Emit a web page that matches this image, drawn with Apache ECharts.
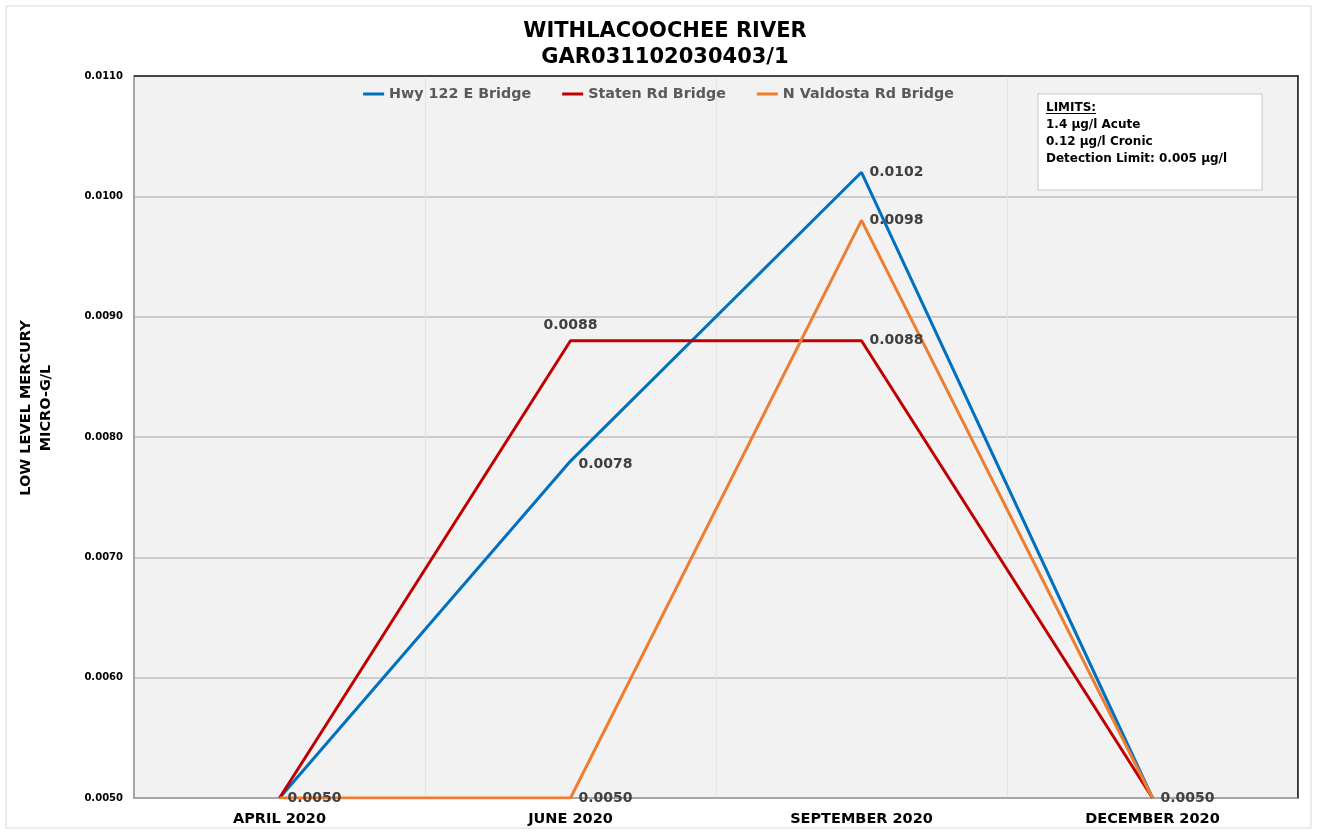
<!DOCTYPE html>
<html>
<head>
<meta charset="utf-8">
<script src="https://cdn.jsdelivr.net/npm/echarts@6/dist/echarts.min.js"></script>
<style>
  html, body { margin: 0; padding: 0; background: #fff; }
  #chart { width: 1317px; height: 834px; }
</style>
</head>
<body>
<div id="chart"></div>
<script>
// sampling dates
const months = ['APRIL 2020', 'JUNE 2020', 'SEPTEMBER 2020', 'DECEMBER 2020']
// low level mercury, micro-g/l
const hwy122 = [0.005, 0.0078, 0.0102, 0.005]
const staten = [0.005, 0.0088, 0.0088, 0.005]
const valdosta = [0.005, 0.005, 0.0098, 0.005]
// which points carry a value label, and where
const hwyLabels = [null, 'bottomRight', 'right', null]
const statenLabels = [null, 'top', 'right', null]
const valdostaLabels = ['right', 'right', 'right', 'right']
const limitsText = ['LIMITS:', '1.4 µg/l Acute', '0.12 µg/l Cronic', 'Detection Limit: 0.005 µg/l']

const FONT = 'DejaVu Sans, Verdana, sans-serif'

const labelStyle = {
  color: '#404040',
  fontFamily: FONT,
  fontWeight: 'bold',
  fontSize: 14,
  formatter: p => p.value.toFixed(4)
}

function points (values, where) {
  return values.map((v, i) => {
    const w = where[i]
    if (!w) return { value: v, label: { show: false } }
    let pos = w
    let offset = [0, 0]
    if (w === 'bottomRight') { pos = 'right'; offset = [0, 3] }
    return { value: v, label: Object.assign({ show: true, position: pos, offset: offset, distance: 8 }, labelStyle) }
  })
}

function line (name, color, values, where) {
  return {
    name: name,
    type: 'line',
    data: points(values, where),
    symbol: 'circle',
    symbolSize: 0.1,
    showAllSymbol: true,
    lineStyle: { color: color, width: 3 },
    itemStyle: { color: color },
    z: 3
  }
}

const dom = document.getElementById('chart')
const chart = echarts.init(dom, null, { renderer: 'canvas' })
const option = {
  backgroundColor: '#fff',
  animation: false,
  title: {
    text: 'WITHLACOOCHEE RIVER\nGAR031102030403/1',
    left: 660,
    textAlign: 'center',
    top: 14,
    textStyle: {
      fontFamily: FONT,
      fontWeight: 'bold',
      fontSize: 21,
      lineHeight: 26,
      color: '#000'
    }
  },
  legend: {
    top: 82,
    left: 'center',
    orient: 'horizontal',
    itemGap: 31,
    itemWidth: 21,
    itemHeight: 3,
    itemTextGap: 2,
    icon: 'rect',
    textStyle: {
      fontFamily: FONT,
      fontWeight: 'bold',
      fontSize: 14.3,
      color: '#595959'
    },
    data: ['Hwy 122 E Bridge', 'Staten Rd Bridge', 'N Valdosta Rd Bridge']
  },
  grid: {
    left: 134,
    right: 19,
    top: 76,
    bottom: 36,
    show: true,
    backgroundColor: '#f2f2f2',
    borderColor: '#262626',
    borderWidth: 1.5
  },
  xAxis: {
    type: 'category',
    data: months,
    boundaryGap: true,
    axisLine: { show: true, lineStyle: { color: '#a6a6a6', width: 2 } },
    axisTick: { show: false },
    splitLine: { show: true, lineStyle: { color: '#e4e4e4', width: 1 } },
    axisLabel: {
      margin: 14,
      fontFamily: FONT,
      fontWeight: 'bold',
      fontSize: 14.5,
      color: '#000'
    }
  },
  yAxis: {
    type: 'value',
    min: 0.005,
    max: 0.011,
    interval: 0.001,
    axisLine: { show: true, lineStyle: { color: '#a6a6a6', width: 2 } },
    axisTick: { show: false },
    splitLine: { show: true, lineStyle: { color: '#bfbfbf', width: 1.5 } },
    axisLabel: {
      margin: 11,
      fontFamily: FONT,
      fontWeight: 'bold',
      fontSize: 10,
      color: '#000',
      formatter: v => v.toFixed(4)
    }
  },
  graphic: [
    {
      type: 'text',
      x: 36,
      y: 408,
      rotation: Math.PI / 2,
      style: {
        text: 'LOW LEVEL MERCURY\nMICRO-G/L',
        font: 'bold 14.5px "DejaVu Sans", Verdana, sans-serif',
        lineHeight: 20,
        align: 'center',
        verticalAlign: 'middle',
        fill: '#000'
      }
    },
    // dark top and right frame of the plot area
    {
      type: 'polyline',
      shape: { points: [[134, 76], [1298, 76], [1298, 798]] },
      style: { fill: null, stroke: '#262626', lineWidth: 1.5 },
      silent: true,
      z: 5
    },
    {
      type: 'rect',
      shape: { x: 1038, y: 94, width: 224, height: 96 },
      style: { fill: '#fff', stroke: '#c8c8c8', lineWidth: 1 },
      z: 10
    },
    {
      type: 'text',
      left: 1046,
      top: 99,
      z: 11,
      style: {
        text: limitsText.join('\n'),
        font: 'bold 12px "DejaVu Sans", Verdana, sans-serif',
        lineHeight: 17,
        fill: '#000'
      }
    },
    {
      type: 'rect',
      shape: { x: 1046, y: 113, width: 50, height: 1 },
      style: { fill: '#000' },
      z: 11
    },
    {
      type: 'rect',
      shape: { x: 6, y: 6, width: 1305, height: 822 },
      style: { fill: 'none', stroke: '#d9d9d9', lineWidth: 1 },
      silent: true,
      z: 0
    }
  ],
  series: [
    line('Hwy 122 E Bridge', '#0070c0', hwy122, hwyLabels),
    line('Staten Rd Bridge', '#c00000', staten, statenLabels),
    line('N Valdosta Rd Bridge', '#ed7d31', valdosta, valdostaLabels)
  ]
}
chart.setOption(option)
</script>
</body>
</html>
